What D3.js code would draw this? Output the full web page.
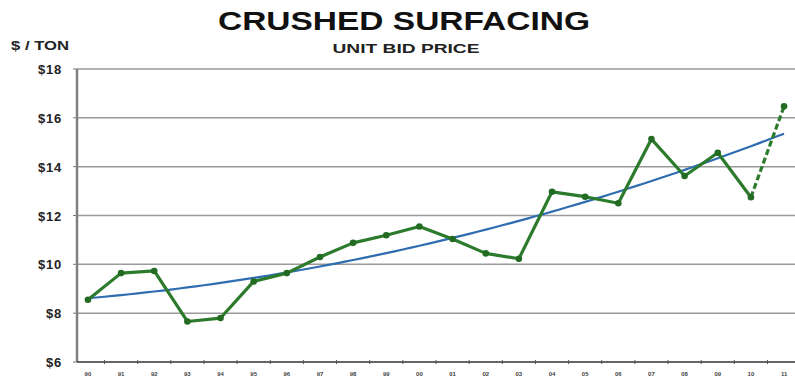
<!DOCTYPE html>
<meta charset="utf-8">
<style>
body { margin: 0; background: #fff; }
svg { display: block; font-family: "Liberation Sans", Arial, sans-serif; }
.ylab { font-size: 13px; font-weight: bold; fill: #222; letter-spacing: 0.8px; }
.xlab { font-size: 6px; font-weight: bold; fill: #444; }
</style>
<body>
<div id="chart"></div>
<script src="https://d3js.org/d3.v7.min.js"></script>
<script>
// values
var years = ["90","91","92","93","94","95","96","97","98","99","00","01","02","03","04","05","06","07","08","09","10","11"];
var prices = [8.55, 9.64, 9.73, 7.66, 7.80, 9.30, 9.64, 10.30, 10.88, 11.19, 11.55, 11.04, 10.45, 10.23, 12.97, 12.77, 12.50, 15.13, 13.62, 14.57, 12.75, 16.47];
var yTicks = [6, 8, 10, 12, 14, 16, 18];

var W = 795, H = 380;
var plotL = 77, plotR = 795, plotT = 69, plotB = 362;

var svg = d3.select("#chart").append("svg").attr("width", W).attr("height", H);

var x = d3.scalePoint().domain(years).range([plotL, plotR]).padding(0.33);
var y = d3.scaleLinear().domain([6, 18]).range([plotB, plotT]);

// gridlines
svg.append("g")
  .selectAll("line")
  .data(yTicks.slice(1))
  .enter().append("line")
  .attr("x1", plotL).attr("x2", plotR)
  .attr("y1", d => y(d)).attr("y2", d => y(d))
  .attr("stroke", "#9a9a9a").attr("stroke-width", 1.5);

// y labels
svg.append("g")
  .selectAll("text")
  .data(yTicks)
  .enter().append("text")
  .attr("class", "ylab")
  .attr("x", 62).attr("y", d => y(d) + 5)
  .attr("text-anchor", "end")
  .text(d => "$" + d);

// small y tick marks
svg.append("g")
  .selectAll("line")
  .data(yTicks)
  .enter().append("line")
  .attr("x1", plotL - 4).attr("x2", plotL)
  .attr("y1", d => y(d)).attr("y2", d => y(d))
  .attr("stroke", "#777").attr("stroke-width", 1);

// axes
svg.append("line").attr("x1", plotL).attr("x2", plotL).attr("y1", plotT).attr("y2", plotB)
  .attr("stroke", "#808080").attr("stroke-width", 2.5);
svg.append("line").attr("x1", plotL).attr("x2", plotR).attr("y1", plotB).attr("y2", plotB)
  .attr("stroke", "#333").attr("stroke-width", 1.5);

// x ticks between categories
var step = x.step();
svg.append("g")
  .selectAll("line")
  .data(years.slice(0, -1))
  .enter().append("line")
  .attr("x1", d => x(d) + step / 2).attr("x2", d => x(d) + step / 2)
  .attr("y1", plotB - 2).attr("y2", plotB + 2)
  .attr("stroke", "#555").attr("stroke-width", 1);

svg.append("g")
  .selectAll("text")
  .data(years)
  .enter().append("text")
  .attr("class", "xlab")
  .attr("x", d => x(d)).attr("y", 376)
  .attr("text-anchor", "middle")
  .text(d => d);

// quadratic least-squares trend line
function quadFit(ys) {
  var s = [0, 0, 0, 0, 0], t = [0, 0, 0];
  ys.forEach(function (v, i) {
    var p = 1;
    for (var k = 0; k < 5; k++) { s[k] += p; if (k < 3) t[k] += v * p; p *= i; }
  });
  var A = [[s[0], s[1], s[2], t[0]], [s[1], s[2], s[3], t[1]], [s[2], s[3], s[4], t[2]]];
  for (var c = 0; c < 3; c++) {
    for (var r = c + 1; r < 3; r++) {
      var f = A[r][c] / A[c][c];
      for (var k = c; k < 4; k++) A[r][k] -= f * A[c][k];
    }
  }
  var b = [0, 0, 0];
  for (var r = 2; r >= 0; r--) {
    var sum = A[r][3];
    for (var k = r + 1; k < 3; k++) sum -= A[r][k] * b[k];
    b[r] = sum / A[r][r];
  }
  return function (i) { return b[0] + b[1] * i + b[2] * i * i; };
}
var fit = quadFit(prices);
var trendPts = d3.range(0, years.length - 1 + 0.001, 0.25);
var xi = d3.scaleLinear().domain([0, years.length - 1]).range([x(years[0]), x(years[years.length - 1])]);

svg.append("path")
  .datum(trendPts)
  .attr("fill", "none")
  .attr("stroke", "#2f6db0")
  .attr("stroke-width", 2.2)
  .attr("d", d3.line().x(d => xi(d)).y(d => y(fit(d))));

// price line
var green = "#2c7a2c";
var line = d3.line().x(d => x(d.year)).y(d => y(d.v));
var pts = years.map((yr, i) => ({ year: yr, v: prices[i] }));

svg.append("path")
  .datum(pts.slice(0, -1))
  .attr("fill", "none").attr("stroke", green).attr("stroke-width", 3.2)
  .attr("stroke-linejoin", "round")
  .attr("d", line);

svg.append("path")
  .datum(pts.slice(-2))
  .attr("fill", "none").attr("stroke", green).attr("stroke-width", 3.2)
  .attr("stroke-dasharray", "6,3")
  .attr("d", line);

svg.append("g")
  .selectAll("circle")
  .data(pts)
  .enter().append("circle")
  .attr("cx", d => x(d.year)).attr("cy", d => y(d.v))
  .attr("r", 3.3)
  .attr("fill", "#236b23");

// titles
svg.append("text")
  .attr("x", 404).attr("y", 30)
  .attr("text-anchor", "middle")
  .attr("textLength", 372).attr("lengthAdjust", "spacingAndGlyphs")
  .style("font-size", "26px").style("font-weight", "bold").style("fill", "#111")
  .text("CRUSHED SURFACING");

svg.append("text")
  .attr("x", 406).attr("y", 53)
  .attr("text-anchor", "middle")
  .attr("textLength", 147).attr("lengthAdjust", "spacingAndGlyphs")
  .style("font-size", "13px").style("font-weight", "bold").style("fill", "#222")
  .text("UNIT BID PRICE");

svg.append("text")
  .attr("x", 11).attr("y", 50)
  .attr("textLength", 58).attr("lengthAdjust", "spacingAndGlyphs")
  .style("font-size", "13px").style("font-weight", "bold").style("fill", "#222")
  .text("$ / TON");
</script>
</body>
